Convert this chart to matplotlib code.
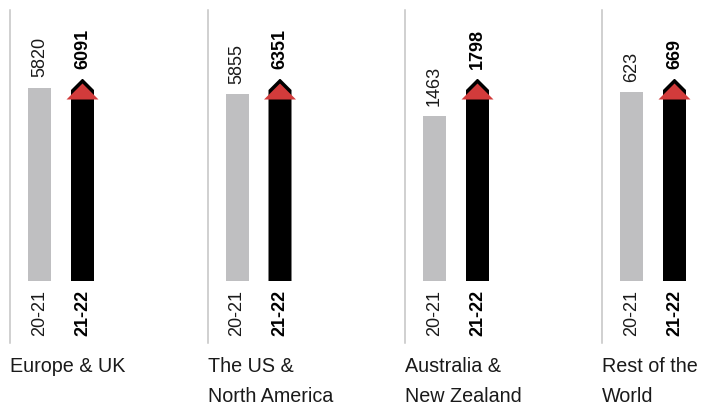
import matplotlib
matplotlib.use("Agg")
import matplotlib.pyplot as plt
from matplotlib.patches import Polygon
from matplotlib.lines import Line2D

regions = ["Europe & UK", "The US &\nNorth America", "Australia &\nNew Zealand", "Rest of the\nWorld"]
prev_year = [5820, 5855, 1463, 623]
curr_year = [6091, 6351, 1798, 669]
year_labels = ["20-21", "21-22"]

W, H = 701, 409
plt.rcParams['font.family'] = ['Liberation Sans', 'DejaVu Sans']
fig = plt.figure(figsize=(W / 100, H / 100), dpi=100)

seps = [10, 207.5, 405, 602]
base_px = 281          # bar baseline, pixels from top
full_px = 202.5        # height of the 21-22 bar in pixels
ax_w = 190
gap = 43               # px between bar centres
bw = 23 / gap
txt = '#1a1a1a'

for i, sep in enumerate(seps):
    ax = fig.add_axes([sep / W, (H - base_px) / H, ax_w / W, full_px / H])
    ax.set_xlim(-29.5 / gap, (ax_w - 29.5) / gap)
    ax.set_ylim(0, curr_year[i])
    ax.axis('off')
    px = curr_year[i] / full_px   # data units per pixel

    # grey bar
    ax.bar(0, prev_year[i], width=bw, color='#bfbfc1')

    # black arrow bar
    v = curr_year[i]
    hw = bw / 2
    ax.add_patch(Polygon([(1 - hw, 0), (1 + hw, 0), (1 + hw, v - 11.5 * px),
                          (1, v), (1 - hw, v - 11.5 * px)],
                         closed=True, color='black', lw=0))
    rw = 16 / gap
    ax.add_patch(Polygon([(1 - rw, v - 21 * px), (1 + rw, v - 21 * px), (1, v - 5 * px)],
                         closed=True, color='#d23b3b', lw=0))

    # value labels
    ax.annotate(f"{prev_year[i]}", (0, prev_year[i]), xytext=(0, 7.5), textcoords='offset points',
                rotation=90, ha='center', va='bottom', fontsize=13, color=txt,
                annotation_clip=False)
    ax.annotate(f"{curr_year[i]}", (1, v), xytext=(0, 6.5), textcoords='offset points',
                rotation=90, ha='center', va='bottom', fontsize=13, fontweight='bold',
                color='black', annotation_clip=False)

    # year labels
    ax.annotate(year_labels[0], (0, 0), xytext=(0, -6.5), textcoords='offset points',
                rotation=90, ha='center', va='top', fontsize=13, color=txt,
                annotation_clip=False)
    ax.annotate(year_labels[1], (1, 0), xytext=(0, -6.5), textcoords='offset points',
                rotation=90, ha='center', va='top', fontsize=13, fontweight='bold',
                color='black', annotation_clip=False)

    # separator line
    fig.add_artist(Line2D([sep / W, sep / W], [(H - 10) / H, (H - 343) / H],
                          color='#c4c4c4', lw=1.1))

    # region name
    fig.text(sep / W, (H - 357) / H, regions[i], ha='left', va='top',
             fontsize=14.2, color=txt, linespacing=1.7)

fig.savefig('out.png', dpi=100)
